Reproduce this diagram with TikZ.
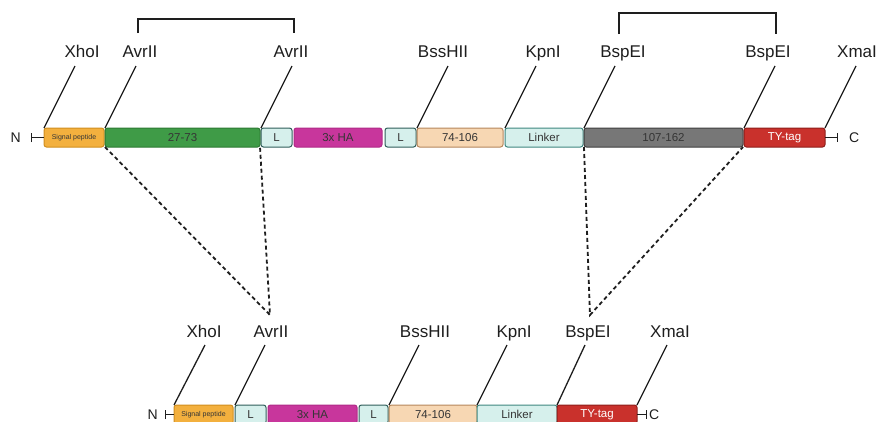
\documentclass[tikz,border=0pt]{standalone}
\usepackage{fontspec}
\setmainfont{Liberation Sans}
\usetikzlibrary{positioning,calc,arrows.meta}

\definecolor{spFill}{HTML}{F3B03E}
\definecolor{spLine}{HTML}{D08E1E}
\definecolor{grFill}{HTML}{3F9B47}
\definecolor{grLine}{HTML}{2D7A33}
\definecolor{lFill}{HTML}{D6F0EC}
\definecolor{lLine}{HTML}{2F5E5A}
\definecolor{haFill}{HTML}{C8369C}
\definecolor{haLine}{HTML}{B02A88}
\definecolor{pcFill}{HTML}{F7D7B3}
\definecolor{pcLine}{HTML}{B5875C}
\definecolor{lkLine}{HTML}{3F8780}
\definecolor{gyFill}{HTML}{777777}
\definecolor{gyLine}{HTML}{3F3F3F}
\definecolor{tyFill}{HTML}{C9312C}
\definecolor{tyLine}{HTML}{8F1E1A}
\definecolor{ink}{HTML}{1E1E1E}

\tikzset{
	% boxes of the construct
	seg/.style={
		rectangle,
		rounded corners=2.5pt,
		line width=1pt,
		minimum height=19pt,
		inner sep=0pt,
		outer sep=0pt,
		text=ink!90,
		font=\fontsize{11.5}{11.5}\selectfont},
	% small text of the signal peptide
	tinyseg/.style={font=\fontsize{7}{7}\selectfont},
	% restriction site names
	site/.style={
		inner sep=0pt,
		anchor=base,
		text=ink,
		font=\fontsize{17}{17}\selectfont},
	% N and C ends
	term/.style={inner sep=0pt, text=ink, font=\fontsize{14}{14}\selectfont},
	% lines to the sites
	cut/.style={draw=ink, line width=1.3pt},
	% brackets over the pairs
	brk/.style={draw=ink, line width=1.3pt},
	% dashed lines to the short construct
	fuse/.style={draw=ink, line width=1.8pt, dash pattern=on 4pt off 3pt},
	% end bars
	tick/.style={arrows={Bar[width=9pt]-}, draw=ink, line width=0.8pt}
}

\begin{document}
\begin{tikzpicture}[x=1pt, y=-1pt, node distance=1pt]
	\useasboundingbox (0,0) rectangle (878,421);
	\clip (0,0) rectangle (878,421);

	% long construct
	\node[seg, tinyseg, anchor=west, fill=spFill, draw=spLine, minimum width=60pt] (sp) at (44,137.5) {Signal peptide};
	\node[seg, right=1pt of sp, fill=grFill, draw=grLine, minimum width=155pt] (d1) {27-73};
	\node[seg, right=1pt of d1, fill=lFill, draw=lLine, minimum width=31pt] (l1) {L};
	\node[seg, right=2pt of l1, fill=haFill, draw=haLine, minimum width=88pt] (ha) {3x HA};
	\node[seg, right=3pt of ha, fill=lFill, draw=lLine, minimum width=31pt] (l2) {L};
	\node[seg, right=1pt of l2, fill=pcFill, draw=pcLine, minimum width=86pt] (d2) {74-106};
	\node[seg, right=2pt of d2, fill=lFill, draw=lkLine, minimum width=78pt] (lk) {Linker};
	\node[seg, right=1pt of lk, fill=gyFill, draw=gyLine, minimum width=159pt] (d3) {107-162};
	\node[seg, right=1pt of d3, fill=tyFill, draw=tyLine, text=white, minimum width=81pt] (ty) {TY-tag};

	\coordinate[left=13pt of sp] (nEnd);
	\coordinate[right=13pt of ty] (cEnd);
	\draw[tick] (nEnd) -- (sp.west);
	\draw[tick] (cEnd) -- (ty.east);
	\node[term, left=10pt of nEnd] (nLab) {N};
	\node[term, right=11pt of cEnd] (cLab) {C};

	% sites of the long construct
	\node[site] (xhoA) at (82,57) {XhoI};
	\node[site] (avrA) at (140,57) {AvrII};
	\node[site] (avrB) at (291,57) {AvrII};
	\node[site] (bssA) at (443,57) {BssHII};
	\node[site] (kpnA) at (543,57) {KpnI};
	\node[site] (bspA) at (623,57) {BspEI};
	\node[site] (bspB) at (768,57) {BspEI};
	\node[site] (xmaA) at (857,57) {XmaI};

	\coordinate (xhoAEnd) at ($(sp.north west)+(31,-62)$);
	\coordinate (avrAEnd) at ($(d1.north west)+(31,-62)$);
	\coordinate (avrBEnd) at ($(l1.north west)+(31,-62)$);
	\coordinate (bssAEnd) at ($(d2.north west)+(31,-62)$);
	\coordinate (kpnAEnd) at ($(lk.north west)+(31,-62)$);
	\coordinate (bspAEnd) at ($(d3.north west)+(31,-62)$);
	\coordinate (bspBEnd) at ($(ty.north west)+(31,-62)$);
	\coordinate (xmaAEnd) at ($(ty.north east)+(31,-62)$);

	\draw[cut] (sp.north west) -- (xhoAEnd);
	\draw[cut] (d1.north west) -- (avrAEnd);
	\draw[cut] (l1.north west) -- (avrBEnd);
	\draw[cut] (d2.north west) -- (bssAEnd);
	\draw[cut] (lk.north west) -- (kpnAEnd);
	\draw[cut] (d3.north west) -- (bspAEnd);
	\draw[cut] (ty.north west) -- (bspBEnd);
	\draw[cut] (ty.north east) -- (xmaAEnd);

	\draw[brk] ([xshift=-2pt,yshift=12pt]avrA.north) -- ++(0,-14) -| ([xshift=3pt,yshift=12pt]avrB.north);
	\draw[brk] ([xshift=-4pt,yshift=11pt]bspA.north) -- ++(0,-21) -| ([xshift=8pt,yshift=11pt]bspB.north);

	% short construct
	\node[seg, tinyseg, anchor=west, fill=spFill, draw=spLine, minimum width=59pt] (sp2) at (174,414.5) {Signal peptide};
	\node[seg, right=2pt of sp2, fill=lFill, draw=lLine, minimum width=31pt] (l3) {L};
	\node[seg, right=2pt of l3, fill=haFill, draw=haLine, minimum width=89pt] (ha2) {3x HA};
	\node[seg, right=2pt of ha2, fill=lFill, draw=lLine, minimum width=29pt] (l4) {L};
	\node[seg, right=1pt of l4, fill=pcFill, draw=pcLine, minimum width=88pt] (d4) {74-106};
	\node[seg, right=0pt of d4, fill=lFill, draw=lkLine, minimum width=80pt] (lk2) {Linker};
	\node[seg, right=0pt of lk2, fill=tyFill, draw=tyLine, text=white, minimum width=80pt] (ty2) {TY-tag};

	\coordinate[left=9pt of sp2] (nEnd2);
	\coordinate[right=10pt of ty2] (cEnd2);
	\draw[tick] (nEnd2) -- (sp2.west);
	\draw[tick] (cEnd2) -- (ty2.east);
	\node[term, left=7pt of nEnd2] (nLab2) {N};
	\node[term, right=2pt of cEnd2] (cLab2) {C};

	% sites of the short construct
	\node[site] (xhoC) at (204,337) {XhoI};
	\node[site] (avrC) at (271,337) {AvrII};
	\node[site] (bssC) at (425,337) {BssHII};
	\node[site] (kpnC) at (514,337) {KpnI};
	\node[site] (bspC) at (588,337) {BspEI};
	\node[site] (xmaC) at (670,337) {XmaI};

	\coordinate (xhoCEnd) at ($(sp2.north west)+(31,-60)$);
	\coordinate (avrCEnd) at ($(l3.north west)+(30,-60)$);
	\coordinate (bssCEnd) at ($(d4.north west)+(30,-60)$);
	\coordinate (kpnCEnd) at ($(lk2.north west)+(30,-60)$);
	\coordinate (bspCEnd) at ($(ty2.north west)+(28,-60)$);
	\coordinate (xmaCEnd) at ($(ty2.north east)+(30,-60)$);

	\draw[cut] (sp2.north west) -- (xhoCEnd);
	\draw[cut] (l3.north west) -- (avrCEnd);
	\draw[cut] (d4.north west) -- (bssCEnd);
	\draw[cut] (lk2.north west) -- (kpnCEnd);
	\draw[cut] (ty2.north west) -- (bspCEnd);
	\draw[cut] (ty2.north east) -- (xmaCEnd);

	% dashed joins
	\coordinate (avrMeet) at (270,315);
	\coordinate (bspMeet) at (590,315);
	\draw[fuse] (d1.south west) -- (avrMeet) -- (d1.south east);
	\draw[fuse] (d3.south west) -- (bspMeet) -- (d3.south east);

\end{tikzpicture}
\end{document}
